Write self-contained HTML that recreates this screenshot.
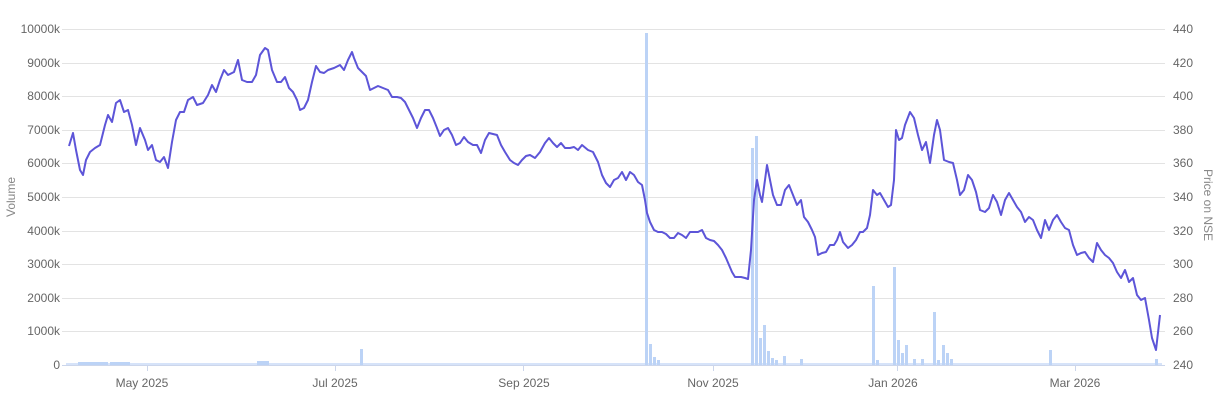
<!DOCTYPE html>
<html><head><meta charset="utf-8"><style>
html,body{margin:0;padding:0;background:#fff;}
svg{display:block;font-family:"Liberation Sans",Arial,sans-serif;}
</style></head><body>
<svg width="1220" height="414" viewBox="0 0 1220 414" xmlns="http://www.w3.org/2000/svg">
<g stroke="#e3e3e3" stroke-width="1">
<line x1="62" x2="1165" y1="29.5" y2="29.5"/>
<line x1="62" x2="1165" y1="63.5" y2="63.5"/>
<line x1="62" x2="1165" y1="96.5" y2="96.5"/>
<line x1="62" x2="1165" y1="130.5" y2="130.5"/>
<line x1="62" x2="1165" y1="163.5" y2="163.5"/>
<line x1="62" x2="1165" y1="197.5" y2="197.5"/>
<line x1="62" x2="1165" y1="231.5" y2="231.5"/>
<line x1="62" x2="1165" y1="264.5" y2="264.5"/>
<line x1="62" x2="1165" y1="298.5" y2="298.5"/>
<line x1="62" x2="1165" y1="331.5" y2="331.5"/>
</g>
<line x1="62" x2="1165" y1="365.5" y2="365.5" stroke="#ccd6eb"/>
<g stroke="#ccd6eb"><line x1="147.5" x2="147.5" y1="365" y2="371"/><line x1="335.5" x2="335.5" y1="365" y2="371"/><line x1="523.5" x2="523.5" y1="365" y2="371"/><line x1="713.5" x2="713.5" y1="365" y2="371"/><line x1="897.5" x2="897.5" y1="365" y2="371"/><line x1="1075.5" x2="1075.5" y1="365" y2="371"/></g>
<g fill="#666" font-size="12" text-anchor="end">
<text x="60" y="33">10000k</text><text x="60" y="67">9000k</text><text x="60" y="100">8000k</text><text x="60" y="134">7000k</text><text x="60" y="167">6000k</text><text x="60" y="201">5000k</text><text x="60" y="235">4000k</text><text x="60" y="268">3000k</text><text x="60" y="302">2000k</text><text x="60" y="335">1000k</text><text x="60" y="369">0</text>
</g>
<g fill="#666" font-size="12" text-anchor="start">
<text x="1173" y="33">440</text><text x="1173" y="67">420</text><text x="1173" y="100">400</text><text x="1173" y="134">380</text><text x="1173" y="167">360</text><text x="1173" y="201">340</text><text x="1173" y="235">320</text><text x="1173" y="268">300</text><text x="1173" y="302">280</text><text x="1173" y="335">260</text><text x="1173" y="369">240</text>
</g>
<g fill="#666" font-size="12" text-anchor="middle">
<text x="142" y="387">May 2025</text><text x="335" y="387">Jul 2025</text><text x="524" y="387">Sep 2025</text><text x="713" y="387">Nov 2025</text><text x="893" y="387">Jan 2026</text><text x="1075" y="387">Mar 2026</text>
</g>
<text transform="translate(15,197) rotate(-90)" fill="#888" font-size="12" text-anchor="middle">Volume</text>
<text transform="translate(1204,205) rotate(90)" fill="#888" font-size="12" text-anchor="middle">Price on NSE</text>
<g fill="#bcd3f6">
<rect x="66" y="363" width="1096" height="2" fill="#d6e3f9"/>
<rect x="78" y="362" width="30" height="3"/><rect x="110" y="362" width="20" height="3"/><rect x="257" y="361" width="12" height="4"/>
<rect x="360" y="349" width="3" height="16"/>
<rect x="645" y="33" width="3" height="332"/>
<rect x="649" y="344" width="3" height="21"/><rect x="653" y="357" width="3" height="8"/><rect x="657" y="360" width="3" height="5"/>
<rect x="751" y="148" width="3" height="217"/><rect x="755" y="136" width="3" height="229"/><rect x="759" y="338" width="3" height="27"/><rect x="763" y="325" width="3" height="40"/><rect x="767" y="351" width="3" height="14"/><rect x="771" y="358" width="3" height="7"/><rect x="775" y="360" width="3" height="5"/><rect x="783" y="356" width="3" height="9"/><rect x="800" y="359" width="3" height="6"/>
<rect x="872" y="286" width="3" height="79"/><rect x="876" y="360" width="3" height="5"/>
<rect x="893" y="267" width="3" height="98"/><rect x="897" y="340" width="3" height="25"/><rect x="901" y="353" width="3" height="12"/><rect x="905" y="345" width="3" height="20"/>
<rect x="913" y="359" width="3" height="6"/><rect x="921" y="359" width="3" height="6"/>
<rect x="933" y="312" width="3" height="53"/><rect x="937" y="360" width="3" height="5"/><rect x="942" y="345" width="3" height="20"/><rect x="946" y="353" width="3" height="12"/><rect x="950" y="359" width="3" height="6"/>
<rect x="1049" y="350" width="3" height="15"/><rect x="1155" y="359" width="3" height="6"/>
</g>
<polyline fill="none" stroke="#5d55d8" stroke-width="2" stroke-linejoin="round" points="69,146 73,133 76,150 80,170 83,175 86,160 90,152 95,148 100,145 105,125 108,115 112,122 116,103 120,100 124,112 128,110 132,125 136,145 140,128 145,140 148,150 152,145 156,160 160,162 164,157 168,168 172,142 176,120 180,112 184,112 188,100 193,97 197,105 203,103 208,95 212,85 216,92 220,80 224,70 228,75 234,72 238,60 242,80 247,82 252,82 256,75 260,55 265,48 268,50 272,70 277,82 281,82 285,77 289,88 293,92 297,100 300,110 304,108 308,100 312,82 316,66 320,72 324,73 328,70 334,68 340,65 344,70 348,60 352,52 354,58 358,68 362,72 366,76 370,90 374,88 378,86 383,88 388,90 392,97 397,97 401,98 405,102 409,110 413,118 417,128 421,118 425,110 429,110 433,118 437,128 440,136 444,130 448,128 452,135 456,145 460,143 464,137 468,142 473,145 477,145 481,153 485,140 489,133 493,134 497,135 501,145 505,152 510,160 514,163 518,165 522,160 526,156 530,155 535,158 540,152 545,143 549,138 553,143 557,147 561,143 565,148 570,148 574,147 578,150 582,145 588,150 593,152 598,162 602,175 606,183 610,187 614,180 618,178 622,172 626,180 630,172 634,175 638,182 642,185 645,200 647,213 650,222 654,230 658,232 662,232 666,234 670,238 674,238 678,233 682,235 686,238 690,232 694,232 698,232 702,230 706,238 710,240 714,241 718,245 722,250 726,258 729,265 732,272 735,277 738,277 741,277 745,278 748,279 751,250 754,200 757,180 760,195 762,202 765,180 767,165 770,180 773,195 777,205 781,205 785,190 789,185 793,195 797,205 801,200 804,217 808,222 812,230 815,237 818,255 822,253 826,252 830,245 834,245 837,240 840,232 843,242 848,248 852,245 856,240 860,232 863,232 867,228 870,215 873,190 877,195 880,193 884,200 888,207 891,205 894,180 896,130 899,140 902,138 905,125 910,112 914,118 918,135 922,150 926,142 930,163 934,135 937,120 940,130 944,160 949,162 953,163 957,180 960,195 964,190 968,175 972,180 976,192 980,210 985,212 989,208 993,195 997,202 1001,215 1005,200 1009,193 1013,200 1017,207 1021,212 1025,222 1029,217 1033,220 1037,230 1041,238 1045,220 1049,230 1053,220 1057,215 1061,222 1065,228 1069,230 1073,245 1077,255 1081,253 1085,252 1089,258 1093,262 1097,243 1101,250 1105,255 1109,258 1113,263 1117,272 1121,278 1125,270 1129,282 1133,278 1137,295 1141,300 1145,298 1149,320 1152,338 1156,350 1160,315"/>
</svg>
</body></html>
